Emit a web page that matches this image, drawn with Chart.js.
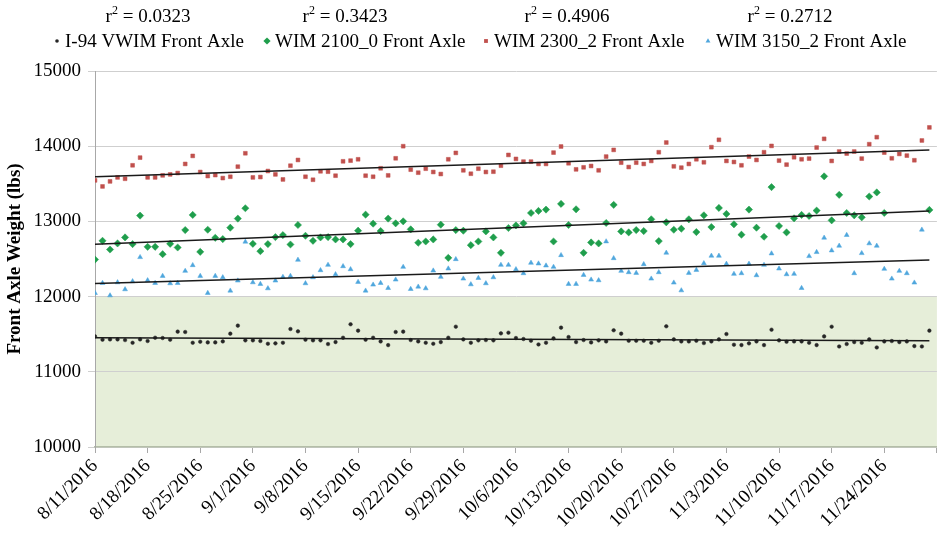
<!DOCTYPE html>
<html lang="en">
<head>
  <meta charset="UTF-8" />
  <title>Front Axle Weight</title>
  <script src="https://cdn.jsdelivr.net/npm/chart.js"></script>
  <style>
    body {
      margin: 0;
      background: #fff;
    }
  </style>
</head>
<body>
  <canvas id="axleChart" width="941" height="538"></canvas>

  <script>
    // daily readings, 8/11/2016 onwards (index = days since start)
    const startDate = '8/11/2016';
    const tickLabels = ['8/11/2016', '8/18/2016', '8/25/2016', '9/1/2016', '9/8/2016', '9/15/2016',
      '9/22/2016', '9/29/2016', '10/6/2016', '10/13/2016', '10/20/2016', '10/27/2016',
      '11/3/2016', '11/10/2016', '11/17/2016', '11/24/2016', ''];

    const seriesNames = ['I-94 VWIM Front Axle', 'WIM 2100_0 Front Axle', 'WIM 2300_2 Front Axle', 'WIM 3150_2 Front Axle'];
    const rSquared = ['0.0323', '0.3423', '0.4906', '0.2712'];

    const i94Vwim = [
      11471, 11427, 11431, 11431, 11422, 11386, 11431, 11409, 11453, 11449, 11427, 11534, 11529, 11386,
      11400, 11391, 11391, 11404, 11507, 11614, 11418, 11418, 11409, 11373, 11378, 11386, 11569, 11538,
      11427, 11418, 11418, 11369, 11395, 11453, 11632, 11547, 11427, 11453, 11404, 11355, 11529, 11534,
      11422, 11404, 11386, 11373, 11395, 11453, 11600, 11431, 11386, 11418, 11422, 11418, 11511, 11520,
      11449, 11436, 11413, 11364, 11386, 11444, 11587, 11462, 11395, 11422, 11391, 11418, 11404, 11552,
      11507, 11413, 11413, 11413, 11386, 11413, 11605, 11431, 11404, 11404, 11413, 11382, 11404, 11431,
      11502, 11360, 11355, 11378, 11404, 11355, 11560, 11418, 11400, 11404, 11404, 11386, 11355, 11471,
      11600, 11337, 11369, 11395, 11386, 11431, 11324, 11404, 11409, 11395, 11404, 11342, 11337, 11547
    ];

    const wim2100 = [
      12493, 12742, 12626, 12707, 12787, 12698, 13077, 12662, 12662, 12564, 12702, 12653, 12885, 13086,
      12595, 12889, 12782, 12765, 12916, 13037, 13175, 12702, 12604, 12698, 12791, 12818, 12693, 12952,
      12809, 12742, 12787, 12791, 12760, 12760, 12698, 12876, 13090, 12970, 12872, 13037, 12974, 13001,
      12894, 12716, 12733, 12760, 12956, 12515, 12885, 12876, 12684, 12733, 12867, 12787, 12582, 12912,
      12947, 12974, 13112, 13139, 13157, 12733, 13233, 12952, 13161, 12582, 12720, 12707, 12979, 13220,
      12867, 12854, 12885, 12872, 13028, 12738, 12988, 12889, 12903, 13028, 12858, 13081, 12925, 13179,
      13099, 12961, 12823, 13157, 12916, 12796, 13456, 12939, 12854, 13041, 13086, 13072, 13144, 13599,
      13014, 13353, 13112, 13081, 13054, 13331, 13385, 13112, null, null, null, null, null, 13153
    ];

    const wim2300 = [
      13545, 13465, 13532, 13585, 13567, 13746, 13848, 13585, 13585, 13612, 13625, 13643, 13764, 13871,
      13657, 13603, 13616, 13576, 13594, 13728, 13906, 13585, 13590, 13670, 13625, 13558, 13741, 13817,
      13594, 13554, 13666, 13661, 13608, 13799, 13808, 13826, 13608, 13594, 13706, 13612, 13839, 14000,
      13688, 13648, 13701, 13657, 13630, 13826, 13911, 13679, 13634, 13701, 13657, 13661, 13741, 13884,
      13831, 13795, 13795, 13764, 13764, 13915, 13996, 13773, 13692, 13719, 13737, 13679, 13862, 13951,
      13781, 13723, 13781, 13764, 13804, 13920, 14049, 13732, 13715, 13764, 13826, 13786, 13987, 14085,
      13804, 13790, 13746, 13862, 13817, 13920, 14004, 13808, 13755, 13853, 13826, 13835, 13982, 14098,
      13804, 13929, 13902, 13929, 13835, 14027, 14120, 13915, 13839, 13897, 13875, 13813, 14076, 14250
    ];

    const wim3150 = [
      12047, 12180, 12015, 12189, 12096, 12203, 12524, 12216, 12180, 12274, 12176, 12180, 12341, 12417,
      12274, 12047, 12274, 12256, 12078, 12212, 12729, 12189, 12167, 12109, 12212, 12261, 12274, 12488,
      12176, 12256, 12350, 12421, 12296, 12403, 12363, 12194, 12078, 12158, 12180, 12113, 12225, 12394,
      12100, 12131, 12109, 12345, 12261, 12372, 12497, 12238, 12162, 12247, 12176, 12256, 12421, 12421,
      12363, 12310, 12448, 12439, 12412, 12394, 12550, 12167, 12167, 12287, 12225, 12216, 12733, 12510,
      12341, 12323, 12314, 12430, 12238, 12323, 12582, 12185, 12082, 12314, 12354, 12443, 12542, 12542,
      12435, 12301, 12310, 12435, 12283, 12421, 12573, 12372, 12296, 12301, 12113, 12537, 12591, 12782,
      12613, 12675, 12818, 12310, 12577, 12707, 12675, 12368, 12238, 12341, 12310, 12185, 12889, null
    ];

    // shaded band (lbs)
    const bandLow = 10000;
    const bandHigh = 12000;

    const styles = [
      { color: '#262626', shape: 'circle', radius: 1.8 },
      { color: '#1f9e4c', shape: 'rectRot', radius: 3.6 },
      { color: '#c0504d', shape: 'rect', radius: 2.7 },
      { color: '#4fa6dd', shape: 'triangle', radius: 2.8 }
    ];
    const allSeries = [i94Vwim, wim2100, wim2300, wim3150];

    function toPoints(values) {
      return values.map((v, i) => ({ x: i, y: v })).filter(p => p.y !== null);
    }

    // least squares trend, drawn from first to last reading
    function trendLine(values) {
      const pts = toPoints(values);
      const n = pts.length;
      let sx = 0, sy = 0, sxx = 0, sxy = 0;
      pts.forEach(p => { sx += p.x; sy += p.y; sxx += p.x * p.x; sxy += p.x * p.y; });
      const slope = (n * sxy - sx * sy) / (n * sxx - sx * sx);
      const icpt = (sy - slope * sx) / n;
      const x0 = 0, x1 = values.length - 1;
      return [{ x: x0, y: icpt + slope * x0 }, { x: x1, y: icpt + slope * x1 }];
    }

    const datasets = [];
    allSeries.forEach((values, k) => {
      datasets.push({
        type: 'scatter',
        label: seriesNames[k],
        data: toPoints(values),
        pointStyle: styles[k].shape,
        pointRadius: styles[k].radius,
        pointHoverRadius: styles[k].radius,
        backgroundColor: styles[k].color,
        borderColor: styles[k].color,
        borderWidth: 0.5,
        order: 1
      });
    });
    allSeries.forEach((values) => {
      datasets.push({
        type: 'line',
        label: 'trend',
        data: trendLine(values),
        borderColor: '#1a1a1a',
        borderWidth: 1.5,
        pointRadius: 0,
        fill: false,
        order: 0
      });
    });

    const serif = "'Liberation Serif', 'Times New Roman', serif";

    const bandPlugin = {
      id: 'band',
      beforeDraw(chart) {
        const { ctx, chartArea, scales } = chart;
        const top = scales.y.getPixelForValue(bandHigh);
        const bottom = scales.y.getPixelForValue(bandLow);
        ctx.save();
        ctx.fillStyle = '#e6eed9';
        ctx.fillRect(chartArea.left, top, chartArea.right - chartArea.left, bottom - top);
        ctx.restore();
      }
    };

    function drawMarker(ctx, shape, x, y, r, color) {
      ctx.fillStyle = color;
      ctx.beginPath();
      if (shape === 'circle') {
        ctx.arc(x, y, r, 0, Math.PI * 2);
      } else if (shape === 'rectRot') {
        ctx.moveTo(x, y - r); ctx.lineTo(x + r, y); ctx.lineTo(x, y + r); ctx.lineTo(x - r, y);
      } else if (shape === 'rect') {
        const s = r * Math.SQRT1_2;
        ctx.rect(x - s, y - s, s * 2, s * 2);
      } else {
        ctx.moveTo(x, y - r); ctx.lineTo(x + r * 0.87, y + r * 0.5); ctx.lineTo(x - r * 0.87, y + r * 0.5);
      }
      ctx.closePath();
      ctx.fill();
    }

    // legend row with r2 values above each entry
    const legendPlugin = {
      id: 'topLegend',
      afterDraw(chart) {
        const ctx = chart.ctx;
        const markerX = [57, 267, 486, 708];
        const r2Center = [148, 345, 567, 790];
        ctx.save();
        ctx.fillStyle = '#000';
        ctx.textBaseline = 'alphabetic';
        seriesNames.forEach((name, k) => {
          // r^2 = value
          ctx.font = '19px ' + serif;
          const rest = ' = ' + rSquared[k];
          const wR = ctx.measureText('r').width;
          const wRest = ctx.measureText(rest).width;
          ctx.font = '12px ' + serif;
          const wSup = ctx.measureText('2').width;
          let x = r2Center[k] - (wR + wSup + wRest) / 2;
          ctx.fillStyle = '#000';
          ctx.font = '19px ' + serif;
          ctx.fillText('r', x, 22);
          ctx.font = '12px ' + serif;
          ctx.fillText('2', x + wR, 14);
          ctx.font = '19px ' + serif;
          ctx.fillText(rest, x + wR + wSup, 22);

          const st = styles[k];
          drawMarker(ctx, st.shape, markerX[k], 41, st.radius, st.color);
          ctx.fillStyle = '#000';
          ctx.fillText(name, markerX[k] + 8, 47);
        });
        ctx.restore();
      }
    };

    new Chart(document.getElementById('axleChart'), {
      data: { datasets: datasets },
      plugins: [bandPlugin, legendPlugin],
      options: {
        responsive: false,
        animation: false,
        layout: { padding: { top: 71, right: 4, left: 0, bottom: 0 } },
        scales: {
          x: {
            type: 'linear',
            min: 0,
            max: 112,
            afterFit: (scale) => { scale.height = 91; scale.paddingRight = 0; },
            ticks: {
              stepSize: 7,
              autoSkip: false,
              maxRotation: 45,
              minRotation: 45,
              padding: 2,
              color: '#000',
              font: { family: serif, size: 19 },
              callback: (value) => tickLabels[Math.round(value / 7)]
            },
            grid: {
              drawOnChartArea: false,
              drawTicks: true,
              tickLength: 6,
              color: '#a8a8a8'
            },
            border: { color: '#b4bea8', width: 1.5 }
          },
          y: {
            min: 10000,
            max: 15000,
            afterFit: (scale) => { scale.width = 95; },
            ticks: {
              stepSize: 1000,
              padding: 7,
              color: '#000',
              font: { family: serif, size: 19 },
              callback: (value) => String(value)
            },
            grid: {
              color: '#cfcfcf',
              tickLength: 7
            },
            border: { color: '#a8a8a8' },
            title: {
              display: true,
              text: 'Front Axle Weight (lbs)',
              color: '#000',
              font: { family: serif, size: 19, weight: 'bold' },
              padding: { top: 4, bottom: 0 }
            }
          }
        },
        plugins: {
          legend: { display: false },
          tooltip: { enabled: false }
        }
      }
    });
  </script>
</body>
</html>
